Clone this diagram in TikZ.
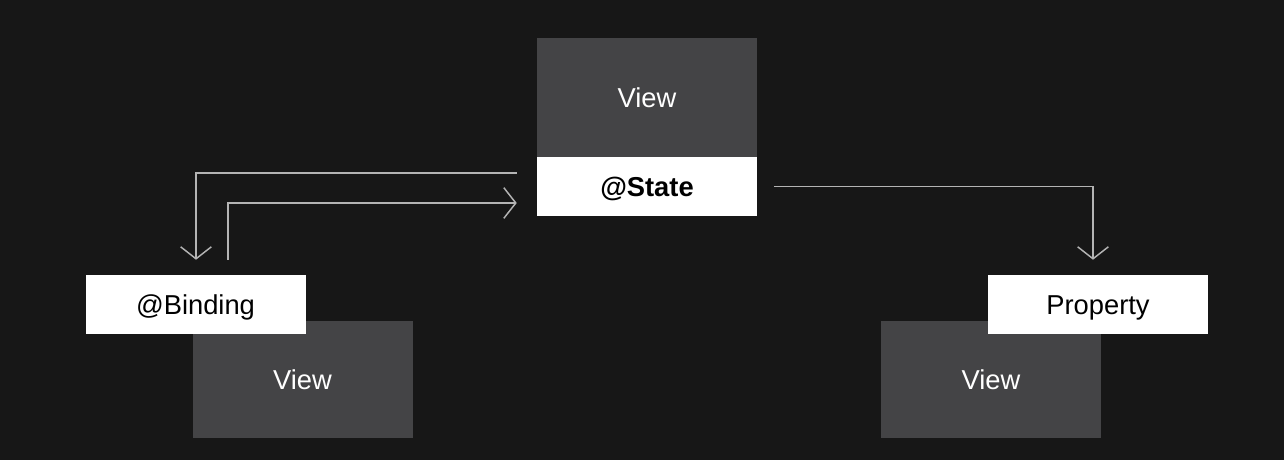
\documentclass[tikz,border=0pt]{standalone}
\usepackage{fontspec}
\setmainfont{Liberation Sans}
\usetikzlibrary{arrows.meta,calc}
\definecolor{bg}{HTML}{171717}
\definecolor{darkbox}{HTML}{444446}
\definecolor{wire}{HTML}{B4B4B4}
\tikzset{
  viewbox/.style={fill=darkbox, draw=none, inner sep=0pt, minimum width=165pt, minimum height=88pt, text=white, font=\fontsize{20.5}{24}\selectfont, text height=14.7pt, text depth=0pt},
  labelbox/.style={fill=white, draw=none, inner sep=0pt, minimum width=165pt, minimum height=44.25pt, text=black, font=\fontsize{20.5}{24}\selectfont, text height=14.7pt, text depth=0pt},
  wireline/.style={draw=wire, line width=1.1pt, -{Straight Barb[length=9pt,width=23pt,line width=1.1pt]}}
}
\begin{document}
\begin{tikzpicture}[x=0.75pt,y=-0.75pt]
\fill[bg] (0,0) rectangle (1284,460);
\useasboundingbox (0,0) rectangle (1284,460);
\node[viewbox, minimum height=88.5pt] (topview) at (647,97.5) {View};
\node[labelbox, font=\fontsize{20.5}{24}\selectfont\bfseries] (state) at (647,186.5) {@State};
\node[viewbox] (leftview) at (302.5,379.5) {View};
\node[labelbox] (binding) at (195.5,304.5) {@Binding};
\node[viewbox] (rightview) at (991,379.5) {View};
\node[labelbox] (property) at (1098,304.5) {Property};
\coordinate (a1s) at ($(state.west)+(-20,-13.5)$);
\coordinate (a1e) at ($(binding.north)+(0.5,-15)$);
\coordinate (a2s) at ($(binding.north)+(32.5,-15)$);
\coordinate (a2e) at ($(state.west)+(-20,16.5)$);
\coordinate (a3s) at ($(state.east)+(17,0)$);
\coordinate (a3e) at ($(property.north)+(-5,-15)$);
\draw[wireline] (a1s) -| (a1e);
\draw[wireline] (a2s) |- (a2e);
\draw[wireline] (a3s) -| (a3e);
\end{tikzpicture}
\end{document}
